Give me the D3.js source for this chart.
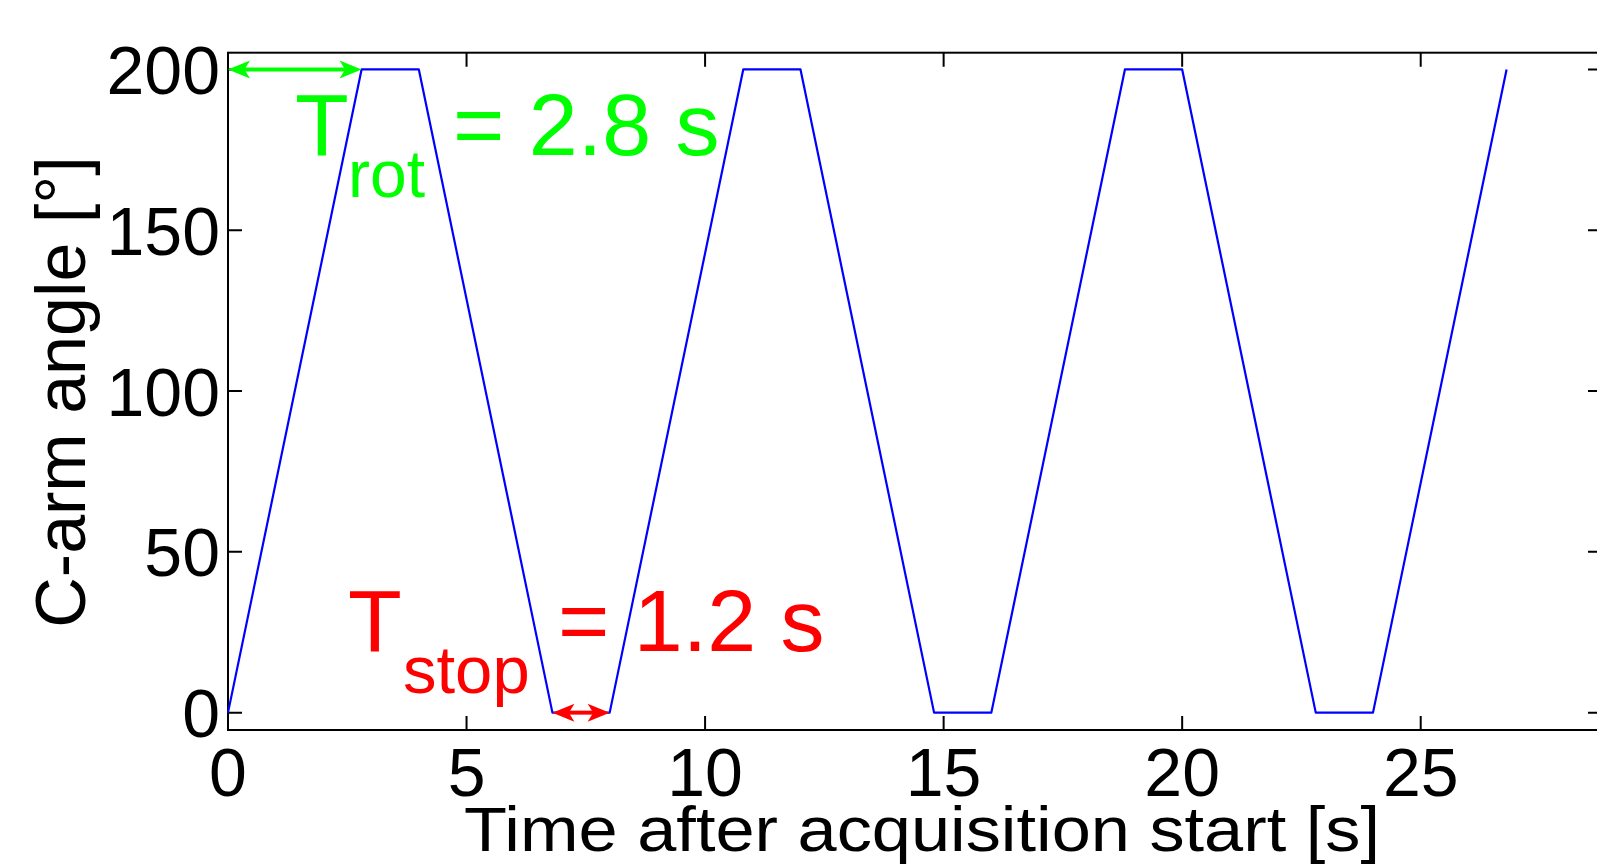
<!DOCTYPE html>
<html>
<head>
<meta charset="utf-8">
<script src="https://cdn.jsdelivr.net/npm/d3@7"></script>
<style>
  body { margin: 0; background: #fff; }
  text { font-family: "Liberation Sans", Arial, sans-serif; }
</style>
</head>
<body>
<svg id="chart"></svg>
<script>
// Time points (s) and C-arm angle (deg)
const timeS    = [0, 2.8, 4.0, 6.8, 8.0, 10.8, 12.0, 14.8, 16.0, 18.8, 20.0, 22.8, 24.0, 26.8];
const angleDeg = [0, 200, 200, 0,   0,   200,  200,  0,    0,    200,  200,  0,    0,    200];

// Tick values
const xTicks = [0, 5, 10, 15, 20, 25];
const yTicks = [0, 50, 100, 150, 200];

// Annotation spans: [start, end] in s, and the angle they sit at
const rotSpan  = [0, 2.8];
const rotAngle = 200;
const stopSpan  = [6.8, 8.0];
const stopAngle = 0;

chart();

function chart() {
    const width = 1597, height = 864;
    const svg = d3.select('#chart')
        .attr('width', width)
        .attr('height', height);

    svg.append('rect').attr('width', width).attr('height', height).attr('fill', '#fff');

    // Plot box
    const box = { left: 228, right: 1602, top: 52.7, bottom: 730 };

    const x = d3.scaleLinear().domain([0, 28.8]).range([box.left, box.right]);
    const y = d3.scaleLinear().domain([-5.4, 205.2]).range([box.bottom, box.top]);

    const tickLen = 14;
    const g = svg.append('g');

    // Ticks on all four sides, pointing inward
    g.selectAll('.xt').data(xTicks).enter().append('path')
        .attr('d', d => `M${x(d)},${box.bottom}V${box.bottom - tickLen}M${x(d)},${box.top}V${box.top + tickLen}`)
        .attr('stroke', '#000').attr('stroke-width', 2);
    g.selectAll('.yt').data(yTicks).enter().append('path')
        .attr('d', d => `M${box.left},${y(d)}H${box.left + tickLen}M${box.right},${y(d)}H${box.right - tickLen}`)
        .attr('stroke', '#000').attr('stroke-width', 2);

    // Axis box
    g.append('rect')
        .attr('x', box.left).attr('y', box.top)
        .attr('width', box.right - box.left).attr('height', box.bottom - box.top)
        .attr('fill', 'none').attr('stroke', '#000').attr('stroke-width', 2);

    // Tick labels
    g.selectAll('.xl').data(xTicks).enter().append('text')
        .attr('x', d => x(d)).attr('y', 796)
        .attr('text-anchor', 'middle')
        .attr('font-size', 68)
        .text(d => d);
    g.selectAll('.yl').data(yTicks).enter().append('text')
        .attr('x', 220).attr('y', d => y(d))
        .attr('dy', '0.36em')
        .attr('text-anchor', 'end')
        .attr('font-size', 68)
        .text(d => d);

    // Axis labels
    svg.append('text')
        .attr('x', 464).attr('y', 851)
        .attr('font-size', 63)
        .attr('textLength', 916)
        .attr('lengthAdjust', 'spacingAndGlyphs')
        .text('Time after acquisition start [s]');
    svg.append('text')
        .attr('transform', 'translate(85,392) rotate(-90)')
        .attr('text-anchor', 'middle')
        .attr('font-size', 70)
        .text('C-arm angle [°]');

    // Data line
    const line = d3.line()
        .x((d, i) => x(timeS[i]))
        .y(d => y(d));
    svg.append('path')
        .datum(angleDeg)
        .attr('d', line)
        .attr('fill', 'none')
        .attr('stroke', '#0000ff')
        .attr('stroke-width', 2.2)
        .attr('stroke-linejoin', 'round');

    // Double arrows
    function arrow(span, angle, color) {
        const y0 = y(angle), x0 = x(span[0]), x1 = x(span[1]);
        const L = 22, h = 9;
        svg.append('line')
            .attr('x1', x0 + L * 0.6).attr('x2', x1 - L * 0.6)
            .attr('y1', y0).attr('y2', y0)
            .attr('stroke', color).attr('stroke-width', 4);
        svg.append('path')
            .attr('d', `M${x0},${y0}L${x0 + L},${y0 - h}L${x0 + L * 0.75},${y0}L${x0 + L},${y0 + h}Z`)
            .attr('fill', color);
        svg.append('path')
            .attr('d', `M${x1},${y0}L${x1 - L},${y0 - h}L${x1 - L * 0.75},${y0}L${x1 - L},${y0 + h}Z`)
            .attr('fill', color);
    }
    arrow(rotSpan, rotAngle, '#00ff00');
    arrow(stopSpan, stopAngle, '#ff0000');

    // Annotation texts
    function label(parts, color) {
        const t = svg.append('text').attr('fill', color);
        parts.forEach(p => {
            t.append('tspan')
                .attr('x', p.x).attr('y', p.y)
                .attr('font-size', p.size)
                .text(p.s);
        });
    }
    label([
        { s: 'T', x: 295, y: 155, size: 88 },
        { s: 'rot', x: 348, y: 197, size: 66 },
        { s: '= 2.8 s', x: 453, y: 155, size: 88 }
    ], '#00ff00');
    label([
        { s: 'T', x: 348, y: 651, size: 88 },
        { s: 'stop', x: 403, y: 693, size: 67 },
        { s: '= 1.2 s', x: 558, y: 651, size: 88 }
    ], '#ff0000');
}
</script>
</body>
</html>
